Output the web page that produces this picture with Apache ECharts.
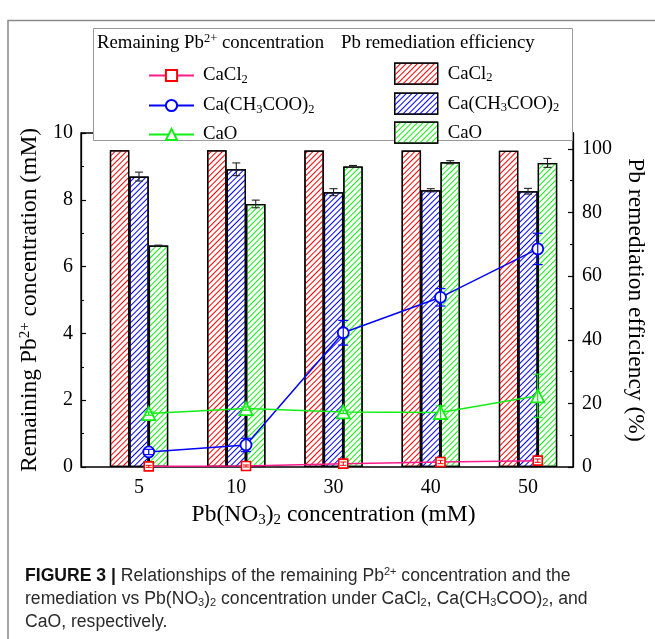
<!DOCTYPE html>
<html><head><meta charset="utf-8">
<script src="https://cdn.jsdelivr.net/npm/echarts@6/dist/echarts.min.js"></script>
<style>html,body{margin:0;padding:0;background:#fff}#c{width:655px;height:639px}</style>
</head><body><div id="c"></div>
<script>
// ---- data ----
const categories = ['5', '10', '30', '40', '50'];
// Pb remediation efficiency (%), bars
const effCaCl2 = [99.6, 99.6, 99.5, 99.5, 99.4];
const effAc = [91.3, 93.6, 86.4, 87.0, 86.7];
const effAcErr = [1.4, 2.0, 1.1, 0.5, 0.9];
const effCaO = [69.6, 82.7, 94.5, 95.8, 95.6];
const effCaOErr = [0.15, 1.2, 0.3, 0.5, 1.4];
// Remaining Pb2+ concentration (mM), lines
const remCaCl2 = [0.02, 0.03, 0.10, 0.15, 0.19];
const remCaCl2Err = [0.03, 0.03, 0.05, 0.05, 0.05];
const remAc = [0.45, 0.66, 4.02, 5.08, 6.53];
const remAcErr = [0.08, 0.2, 0.37, 0.26, 0.47];
const remCaO = [1.6, 1.75, 1.65, 1.63, 2.13];
const remCaOErr = [0.05, 0.05, 0.05, 0.2, 0.65];
// axis ticks
const leftAxisTicks = [0, 2, 4, 6, 8, 10];
const rightAxisTicks = [0, 20, 40, 60, 80, 100];

const SERIF = 'Liberation Serif';
const SANS = 'Liberation Sans';
const RED = '#ff0000', BLUE = '#0000ff', GREEN = '#11ee11', PINK = '#ff1a8c';

function hatch(color) {
  return { symbol: 'rect', symbolSize: 1, color: color, dashArrayX: [1, 0], dashArrayY: [1, 2.5], rotation: -Math.PI / 4 };
}
function errRender(offsetIdx, capW, color, lw) {
  return function (params, api) {
    const x = api.value(0), y = api.value(1), e = api.value(2);
    const lo = api.coord([x, y - e]);
    const hi = api.coord([x, y + e]);
    let dx = 0;
    if (offsetIdx !== null) dx = offsetIdx * api.size([1, 0])[0] * 0.2;
    const cx = lo[0] + dx;
    const st = { stroke: color, lineWidth: lw };
    return { type: 'group', children: [
      { type: 'line', shape: { x1: cx, y1: lo[1], x2: cx, y2: hi[1] }, style: st },
      { type: 'line', shape: { x1: cx - capW / 2, y1: hi[1], x2: cx + capW / 2, y2: hi[1] }, style: st },
      { type: 'line', shape: { x1: cx - capW / 2, y1: lo[1], x2: cx + capW / 2, y2: lo[1] }, style: st }
    ]};
  };
}
const idxData = (vals, errs) => vals.map((v, i) => errs ? [i, v, errs[i]] : [i, v]);

const LFS = 18.8;
const richBase = {
  t: { fontFamily: SERIF, fontSize: LFS, color: '#000' },
  s: { fontFamily: SERIF, fontSize: 12.5, color: '#000', padding: [8, 0, 0, 0] }
};
const legendNames = {
  L_CaCl2: '{t|CaCl}{s|2}', L_Ac: '{t|Ca(CH}{s|3}{t|COO)}{s|2}', L_CaO: '{t|CaO}',
  B_CaCl2: '{t|CaCl}{s|2}', B_Ac: '{t|Ca(CH}{s|3}{t|COO)}{s|2}', B_CaO: '{t|CaO}'
};
const rowY = [68, 98, 127];
function mkLegend(name, left, row, isBar) {
  const lg = {
    data: [name], left: left, top: rowY[row] - (isBar ? 10.5 : 7), orient: 'vertical',
    itemWidth: isBar ? 43 : 45, itemHeight: isBar ? 21 : 14, selectedMode: false, z: 10,
    formatter: n => legendNames[n],
    textStyle: { fontFamily: SERIF, fontSize: LFS, color: '#000', padding: [0, 0, 0, isBar ? 5 : 4], rich: richBase }
  };
  if (isBar) { lg.icon = 'rect'; lg.itemStyle = { borderColor: '#000', borderWidth: 1.3 }; }
  return lg;
}

const chart = echarts.init(document.getElementById('c'), null, { renderer: 'canvas' });
const gridTop = 133, gridBottom = 639 - 467;
const axisNameRich = {
  t: { fontFamily: SERIF, fontSize: 23.5, color: '#000' },
  s: { fontFamily: SERIF, fontSize: 15, color: '#000', padding: [10, 0, 0, 0] },
  sup: { fontFamily: SERIF, fontSize: 15, color: '#000', padding: [0, 0, 10, 0] }
};
const hiddenY = (min, max) => ({ type: 'value', gridIndex: 0, min: min, max: max, show: false, splitLine: { show: false } });
const CFS = 17.6;
const capRich = {
  b: { fontFamily: SANS, fontSize: CFS, fontWeight: 'bold', fill: '#111' },
  n: { fontFamily: SANS, fontSize: CFS, fill: '#2a2a2a' },
  sup: { fontFamily: SANS, fontSize: 11, fill: '#2a2a2a', padding: [0, 0, 9, 0] },
  sub: { fontFamily: SANS, fontSize: 11, fill: '#2a2a2a', padding: [8, 0, 0, 0] }
};

const option = {
  animation: false,
  backgroundColor: '#fff',
  grid: [
    { left: 90.4, right: 78.35, top: gridTop, bottom: gridBottom },
    { left: 81, right: 71, top: gridTop, bottom: gridBottom, show: true, borderColor: '#000', borderWidth: 1.3, backgroundColor: 'transparent' }
  ],
  xAxis: [
    { type: 'category', gridIndex: 0, data: categories,
      axisLine: { show: false }, axisTick: { show: false },
      axisLabel: { fontFamily: SERIF, fontSize: 20, color: '#000', margin: 11 },
      name: '{t|Pb(NO}{s|3}{t|)}{s|2}{t| concentration (mM)}', nameLocation: 'middle', nameGap: 30,
      nameTextStyle: { rich: axisNameRich } },
    { type: 'value', gridIndex: 0, min: -0.6, max: 4.4, show: false, splitLine: { show: false } },
    { type: 'value', gridIndex: 1, min: 0, max: 1, show: false, splitLine: { show: false } }
  ],
  yAxis: [
    hiddenY(leftAxisTicks[0], leftAxisTicks[leftAxisTicks.length - 1]),
    hiddenY(rightAxisTicks[0], 105),
    { type: 'value', gridIndex: 1, position: 'left', min: leftAxisTicks[0], max: leftAxisTicks[leftAxisTicks.length - 1], interval: 2,
      splitLine: { show: false },
      axisLine: { show: true, lineStyle: { color: '#000', width: 1.3 } },
      axisTick: { show: true, inside: true, length: 5, lineStyle: { color: '#000', width: 1.2 } },
      minorTick: { show: true, splitNumber: 2, length: 3, lineStyle: { color: '#000', width: 1.1 } },
      axisLabel: { fontFamily: SERIF, fontSize: 20, color: '#000', margin: 8 },
      name: '{t|Remaining Pb}{sup|2+}{t| concentration (mM)}', nameLocation: 'middle', nameGap: 35,
      nameTextStyle: { rich: axisNameRich } },
    { type: 'value', gridIndex: 1, position: 'right', min: rightAxisTicks[0], max: 105, interval: 20,
      splitLine: { show: false },
      axisLine: { show: true, lineStyle: { color: '#000', width: 1.3 } },
      axisTick: { show: true, inside: true, length: 5, lineStyle: { color: '#000', width: 1.2 } },
      minorTick: { show: true, splitNumber: 2, length: 3, lineStyle: { color: '#000', width: 1.1 } },
      axisLabel: { fontFamily: SERIF, fontSize: 20, color: '#000', margin: 9, showMaxLabel: false,
        formatter: v => (rightAxisTicks.indexOf(v) >= 0 ? String(v) : '') },
      name: 'Pb remediation efficiency (%)', nameLocation: 'middle', nameGap: 50, nameRotate: -90,
      nameTextStyle: { fontFamily: SERIF, fontSize: 23.5, color: '#000' } }
  ],
  legend: [
    mkLegend('L_CaCl2', 143, 0, false),
    mkLegend('L_Ac', 143, 1, false),
    mkLegend('L_CaO', 143, 2, false),
    mkLegend('B_CaCl2', 389, 0, true),
    mkLegend('B_Ac', 389, 1, true),
    mkLegend('B_CaO', 389, 2, true)
  ],
  graphic: [
    { type: 'polyline', shape: { points: [[8, 639], [8, 20.5], [655, 20.5]] }, style: { stroke: '#8a8a8a', lineWidth: 1.5, fill: null }, z: 1 },
    { type: 'rect', shape: { x: 93.5, y: 28.5, width: 479, height: 112 }, style: { fill: '#fff', stroke: '#9a9a9a', lineWidth: 1 }, z: 8 },
    { type: 'text', x: 97, y: 43, z: 11, style: { text: '{t|Remaining Pb}{sup|2+}{t| concentration}', verticalAlign: 'middle',
        rich: { t: { fontFamily: SERIF, fontSize: LFS, fill: '#000' }, sup: { fontFamily: SERIF, fontSize: 12.5, fill: '#000', padding: [0, 0, 8, 0] } } } },
    { type: 'text', x: 341, y: 43, z: 11, style: { text: 'Pb remediation efficiency', fontFamily: SERIF, fontSize: LFS, fill: '#000', verticalAlign: 'middle' } },
    { type: 'text', x: 25, y: 576, z: 11, style: { verticalAlign: 'middle',
        text: '{b|FIGURE 3 | }{n|Relationships of the remaining Pb}{sup|2+}{n| concentration and the}', rich: capRich } },
    { type: 'text', x: 25, y: 599, z: 11, style: { verticalAlign: 'middle',
        text: '{n|remediation vs Pb(NO}{sub|3}{n|)}{sub|2}{n| concentration under CaCl}{sub|2}{n|, Ca(CH}{sub|3}{n|COO)}{sub|2}{n|, and}', rich: capRich } },
    { type: 'text', x: 25, y: 622, z: 11, style: { verticalAlign: 'middle', text: '{n|CaO, respectively.}', rich: capRich } }
  ],
  series: [
    { name: 'B_CaCl2', type: 'bar', xAxisIndex: 0, yAxisIndex: 1, data: effCaCl2, barWidth: '20%', barGap: '0%', z: 2,
      itemStyle: { color: '#fff', borderColor: '#000', borderWidth: 1.3, decal: hatch(RED) } },
    { name: 'B_Ac', type: 'bar', xAxisIndex: 0, yAxisIndex: 1, data: effAc, barWidth: '20%', barGap: '0%', z: 2,
      itemStyle: { color: '#fff', borderColor: '#000', borderWidth: 1.3, decal: hatch(BLUE) } },
    { name: 'B_CaO', type: 'bar', xAxisIndex: 0, yAxisIndex: 1, data: effCaO, barWidth: '20%', barGap: '0%', z: 2,
      itemStyle: { color: '#fff', borderColor: '#000', borderWidth: 1.3, decal: hatch(GREEN) } },
    { name: 'errAc', type: 'custom', xAxisIndex: 0, yAxisIndex: 1, data: idxData(effAc, effAcErr), z: 3,
      renderItem: errRender(0, 8, '#222', 1.1), encode: { x: 0, y: 1 } },
    { name: 'errCaO', type: 'custom', xAxisIndex: 0, yAxisIndex: 1, data: idxData(effCaO, effCaOErr), z: 3,
      renderItem: errRender(1, 8, '#222', 1.1), encode: { x: 0, y: 1 } },
    { name: 'L_CaCl2', type: 'line', xAxisIndex: 1, yAxisIndex: 0, data: idxData(remCaCl2), z: 4,
      symbol: 'rect', symbolSize: 9, lineStyle: { color: PINK, width: 1.5 },
      itemStyle: { color: '#fff', borderColor: RED, borderWidth: 1.6 } },
    { name: 'L_Ac', type: 'line', xAxisIndex: 1, yAxisIndex: 0, data: idxData(remAc), z: 4,
      symbol: 'circle', symbolSize: 11, lineStyle: { color: BLUE, width: 1.5 },
      itemStyle: { color: '#fff', borderColor: BLUE, borderWidth: 1.8 } },
    { name: 'L_CaO', type: 'line', xAxisIndex: 1, yAxisIndex: 0, data: idxData(remCaO), z: 4,
      symbol: 'triangle', symbolSize: 13, lineStyle: { color: GREEN, width: 1.5 },
      itemStyle: { color: '#fff', borderColor: GREEN, borderWidth: 1.8 } },
    { name: 'errLCaCl2', type: 'custom', xAxisIndex: 1, yAxisIndex: 0, data: idxData(remCaCl2, remCaCl2Err), z: 5,
      renderItem: errRender(null, 6, RED, 1), encode: { x: 0, y: 1 } },
    { name: 'errLAc', type: 'custom', xAxisIndex: 1, yAxisIndex: 0, data: idxData(remAc, remAcErr), z: 5,
      renderItem: errRender(null, 10, BLUE, 1.2), encode: { x: 0, y: 1 } },
    { name: 'errLCaO', type: 'custom', xAxisIndex: 1, yAxisIndex: 0, data: idxData(remCaO, remCaOErr), z: 5,
      renderItem: errRender(null, 10, GREEN, 1.2), encode: { x: 0, y: 1 } }
  ]
};
chart.setOption(option);
</script></body></html>
